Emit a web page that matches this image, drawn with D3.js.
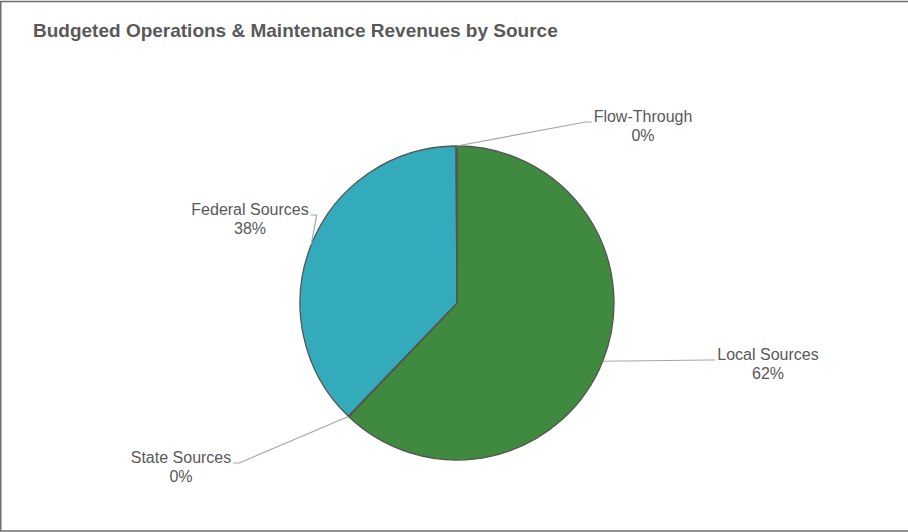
<!DOCTYPE html>
<html>
<head>
<meta charset="utf-8">
<script src="https://cdn.jsdelivr.net/npm/d3@7/dist/d3.min.js"></script>
<style>
  html, body { margin: 0; padding: 0; background: #fff; }
  svg { display: block; }
  text { font-family: "Liberation Sans", Arial, sans-serif; fill: #595959; }
</style>
</head>
<body>
<svg id="chart" width="908" height="532"></svg>
<script>
// Revenue sources, in slice order (clockwise from 12 o'clock)
const categories = ["Local Sources", "State Sources", "Federal Sources", "Flow-Through"];
const shares = [62.1, 0.1, 37.7, 0.1];
const sliceColors = ["#3F8A3F", "#9E9E9E", "#34ABBB", "#7F7F7F"];
const chartTitle = "Budgeted Operations & Maintenance Revenues by Source";

// Label placement relative to the pie centre: text centre x, first baseline y,
// and which edge of the label the leader line attaches to.
const labelLayout = [
  { dx: 311, dy: 57, side: "left" },
  { dx: -276, dy: 160, side: "right" },
  { dx: -207, dy: -88, side: "right" },
  { dx: 186, dy: -181, side: "left" }
];

const W = 908, H = 532;
const cx = 457, cy = 303, R = 157;
const svg = d3.select("#chart");

// Chart frame
svg.append("rect")
  .attr("x", 0.75).attr("y", 1.5)
  .attr("width", W + 20).attr("height", H - 2.5)
  .attr("fill", "#fff")
  .attr("stroke", "#6E6E6E")
  .attr("stroke-width", 1.5);

svg.append("text")
  .attr("x", 33).attr("y", 37)
  .attr("font-size", 19)
  .attr("font-weight", "bold")
  .text(chartTitle);

const data = categories.map((c, i) => ({ name: c, value: shares[i], color: sliceColors[i], layout: labelLayout[i] }));
const total = d3.sum(shares);

const pie = d3.pie().value(d => d.value).sort(null);
const arcs = pie(data);
const arc = d3.arc().innerRadius(0).outerRadius(R);

const g = svg.append("g").attr("transform", `translate(${cx},${cy})`);

g.selectAll("path.slice")
  .data(arcs)
  .join("path")
  .attr("class", "slice")
  .attr("d", arc)
  .attr("fill", d => d.data.color)
  .attr("stroke", "#555555")
  .attr("stroke-width", 1.3)
  .attr("stroke-linejoin", "round");

const fmt = v => Math.round(v / total * 100) + "%";
const lineGap = 19;

arcs.forEach(a => {
  const L = a.data.layout;
  const t = g.append("text")
    .attr("text-anchor", "middle")
    .attr("font-size", 16);
  t.append("tspan").attr("x", L.dx).attr("y", L.dy).text(a.data.name);
  t.append("tspan").attr("x", L.dx).attr("y", L.dy + lineGap).text(fmt(a.data.value));

  const w = t.node().getBBox().width;
  const mid = (a.startAngle + a.endAngle) / 2;
  const sx = R * Math.sin(mid), sy = -R * Math.cos(mid);
  const ey = L.dy;
  const edge = L.side === "left" ? L.dx - w / 2 - 2 : L.dx + w / 2 + 2;
  const elbow = L.side === "left" ? edge - 6 : edge + 6;

  g.insert("path", "text")
    .attr("d", d3.line()([[sx, sy], [elbow, ey], [edge, ey]]))
    .attr("fill", "none")
    .attr("stroke", "#A6A6A6")
    .attr("stroke-width", 1.2);
});
</script>
</body>
</html>
